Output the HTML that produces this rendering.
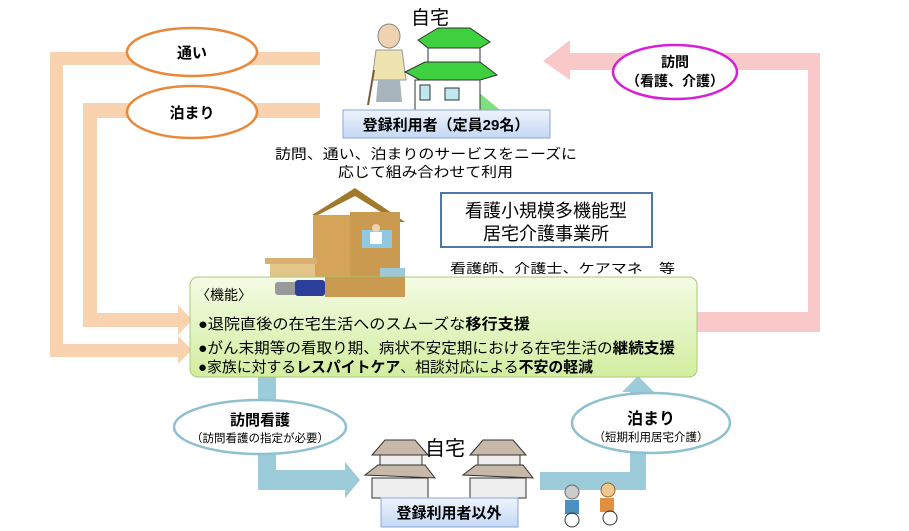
<!DOCTYPE html>
<html><head><meta charset="utf-8"><style>
body{margin:0;background:#fff;}
svg{display:block;font-family:"Liberation Sans","Noto Sans CJK JP",sans-serif;}
</style></head><body>
<svg width="909" height="531" viewBox="0 0 909 531" xmlns="http://www.w3.org/2000/svg">
<defs>
<linearGradient id="gg" x1="0" y1="0" x2="0" y2="1"><stop offset="0" stop-color="#f4fbe4"/><stop offset="1" stop-color="#d2eea0"/></linearGradient>
<linearGradient id="bg" x1="0" y1="0" x2="0" y2="1"><stop offset="0" stop-color="#eef4fd"/><stop offset="1" stop-color="#c4d8f4"/></linearGradient>
</defs>
<g fill="#f9d2b0">
<path d="M50 52 H320 V65 H63 V344 H178 V336 L192 350 L178 364 V357 H50 Z"/>
<path d="M83 103 H320 V118 H97 V313 H178 V305 L192 320 L178 335 V327 H83 Z"/>
</g>
<ellipse cx="192" cy="52" rx="65" ry="24" fill="#fff" stroke="#e8883a" stroke-width="2.5"/>
<ellipse cx="192" cy="112" rx="65" ry="26" fill="#fff" stroke="#e8883a" stroke-width="2.5"/>
<text x="192" y="58" font-size="15" font-weight="bold" text-anchor="middle">通い</text>
<text x="192" y="118" font-size="15" font-weight="bold" text-anchor="middle">泊まり</text>
<path fill="#f9c9c9" d="M570 53 H820 V332 H697 V312 H808 V70 H570 V80 L543 61 L570 40 Z"/>
<ellipse cx="675" cy="72" rx="62" ry="27" fill="#fff" stroke="#d61fd6" stroke-width="2.5"/>
<text x="675" y="67" font-size="14" font-weight="bold" text-anchor="middle">訪問</text>
<text x="675" y="86" font-size="14" font-weight="bold" text-anchor="middle">（看護、介護）</text>
<g fill="#9ccbd9">
<path d="M258 377 H276 V470 H345 V462 L360 480 L345 498 V490 H258 Z"/>
<path d="M540 472 H630 V392 H622 L638 376 L654 392 H646 V490 H540 Z"/>
</g>
<ellipse cx="260" cy="427" rx="86" ry="27" fill="#fff" stroke="#8ec0d0" stroke-width="2.5"/>
<text x="260" y="425" font-size="15" font-weight="bold" text-anchor="middle">訪問看護</text>
<text x="260" y="442" font-size="11.5" text-anchor="middle">（訪問看護の指定が必要）</text>
<ellipse cx="651" cy="423" rx="79" ry="30" fill="#fff" stroke="#8ec0d0" stroke-width="2.5"/>
<text x="651" y="424" font-size="16" font-weight="bold" text-anchor="middle">泊まり</text>
<text x="651" y="441" font-size="11.5" text-anchor="middle">（短期利用居宅介護）</text>
<text x="430" y="24" font-size="19" text-anchor="middle">自宅</text>
<g>
<ellipse cx="389" cy="36" rx="11" ry="12" fill="#f0d2b0" stroke="#888"/>
<path d="M376 50 h26 l4 30 h-34 z" fill="#efe3b0" stroke="#999"/>
<path d="M378 80 h22 l2 22 h-26 z" fill="#a8b4bc"/>
<line x1="374" y1="70" x2="368" y2="105" stroke="#7a5a3a" stroke-width="2"/>
<path d="M420 110 L500 110 L470 85 Z" fill="#7fe07f"/>
<path d="M418 40 L438 28 L470 28 L490 42 L480 48 L428 48 Z" fill="#3ed03e" stroke="#333"/>
<rect x="428" y="48" width="52" height="20" fill="#fff" stroke="#333"/>
<path d="M405 72 L425 62 L480 62 L497 75 L480 80 L420 80 Z" fill="#3ed03e" stroke="#333"/>
<rect x="415" y="80" width="65" height="30" fill="#fff" stroke="#333"/>
<rect x="420" y="85" width="10" height="15" fill="#bfe8f0" stroke="#333"/>
<rect x="445" y="88" width="14" height="12" fill="#bfe8f0" stroke="#333"/>
</g>
<rect x="343" y="110" width="207" height="28" fill="url(#bg)" stroke="#8aa7d6"/>
<text x="446" y="130" font-size="15" font-weight="bold" text-anchor="middle">登録利用者（定員29名）</text>
<text x="275" y="159" font-size="14" textLength="302" lengthAdjust="spacingAndGlyphs">訪問、通い、泊まりのサービスをニーズに</text>
<text x="338" y="177" font-size="14" textLength="175" lengthAdjust="spacingAndGlyphs">応じて組み合わせて利用</text>
<g>
<path d="M312 215 L355 188 L405 222 L397 222 L355 196 L318 215 Z" fill="#a07a2a"/>
<rect x="313" y="215" width="40" height="80" fill="#d6a458"/>
<rect x="350" y="212" width="50" height="83" fill="#c99a50"/>
<rect x="270" y="258" width="45" height="37" fill="#e3c48a"/>
<rect x="265" y="258" width="52" height="6" fill="#d8b070"/>
<rect x="362" y="230" width="30" height="18" fill="#8fc8e0"/>
<rect x="380" y="268" width="25" height="27" fill="#9ec8d8"/>
<circle cx="376" cy="228" r="4" fill="#f0d2b0"/>
<rect x="370" y="232" width="12" height="12" fill="#fff"/>
</g>
<rect x="441" y="193" width="211" height="54" fill="#fff" stroke="#4f77a8" stroke-width="2"/>
<text x="546" y="217" font-size="18" text-anchor="middle">看護小規模多機能型</text>
<text x="546" y="240" font-size="18" text-anchor="middle">居宅介護事業所</text>
<text x="450" y="273" font-size="13" textLength="225" lengthAdjust="spacingAndGlyphs">看護師、介護士、ケアマネ　等</text>
<rect x="190" y="277" width="507" height="100" rx="8" fill="url(#gg)" stroke="#a8c878"/>
<g>
<rect x="275" y="282" width="22" height="13" fill="#999" rx="3"/>
<rect x="295" y="280" width="30" height="16" fill="#2b3f9a" rx="3"/>
<rect x="325" y="277" width="80" height="20" fill="#c99a50"/>
</g>
<text x="196" y="300" font-size="14">〈機能〉</text>
<text x="198" y="329" font-size="15" textLength="332" lengthAdjust="spacingAndGlyphs">●退院直後の在宅生活へのスムーズな<tspan font-weight="bold">移行支援</tspan></text>
<text x="198" y="353" font-size="15" textLength="477" lengthAdjust="spacingAndGlyphs">●がん末期等の看取り期、病状不安定期における在宅生活の<tspan font-weight="bold">継続支援</tspan></text>
<text x="198" y="372" font-size="15" textLength="395" lengthAdjust="spacingAndGlyphs">●家族に対する<tspan font-weight="bold">レスパイトケア</tspan>、相談対応による<tspan font-weight="bold">不安の軽減</tspan></text>
<g fill="#c8b8a8" stroke="#333">
<path d="M372 455 L385 440 L415 440 L428 455 Z"/>
<rect x="380" y="455" width="42" height="15" fill="#eee"/>
<path d="M365 475 L378 465 L425 465 L435 478 Z"/>
<rect x="372" y="478" width="56" height="20" fill="#eee"/>
<path d="M470 455 L483 440 L513 440 L526 455 Z"/>
<rect x="478" y="455" width="42" height="15" fill="#eee"/>
<path d="M463 475 L476 465 L523 465 L533 478 Z"/>
<rect x="470" y="478" width="56" height="20" fill="#eee"/>
</g>
<text x="445" y="455" font-size="20" text-anchor="middle">自宅</text>
<rect x="381" y="498" width="137" height="29" fill="url(#bg)" stroke="#8aa7d6"/>
<text x="449" y="518" font-size="15" font-weight="bold" text-anchor="middle">登録利用者以外</text>
<g>
<circle cx="572" cy="492" r="7" fill="#ccc" stroke="#666"/>
<rect x="565" y="500" width="14" height="14" fill="#4a90c0"/>
<circle cx="572" cy="520" r="7" fill="none" stroke="#333"/>
<circle cx="608" cy="490" r="7" fill="#f0c890" stroke="#a06020"/>
<rect x="600" y="498" width="14" height="14" fill="#e09040"/>
<circle cx="610" cy="518" r="7" fill="none" stroke="#333"/>
</g>
</svg>
</body></html>
